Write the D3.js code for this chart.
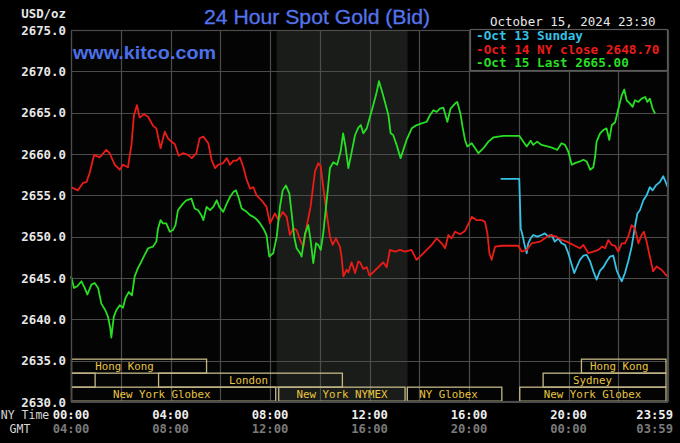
<!DOCTYPE html>
<html><head><meta charset="utf-8">
<script src="https://cdn.jsdelivr.net/npm/d3@7"></script>
<style>html,body{margin:0;padding:0;background:#000;}svg{display:block;}</style>
</head><body>
<script>
// ---- data ----
const yTicks = [2630,2635,2640,2645,2650,2655,2660,2665,2670,2675];
const xTickHours = [0,4,8,12,16,20,24];
const nyTimeLabels = ['00:00','04:00','08:00','12:00','16:00','20:00','23:59'];
const gmtLabels = ['04:00','08:00','12:00','16:00','20:00','00:00','03:59'];
const gridHours = [0,2,4,6,8,10,12,14,16,18,20,22,24];
const shadeHours = [8.27, 13.53];
const legendLabels = ['-Oct 13 Sunday','-Oct 14 NY close 2648.70','-Oct 15 Last 2665.00'];
// sessions: [row, startHour, endHour, label, labelHour]
const sessions = [
  [0, 0, 5.47, 'Hong Kong', 0.97],
  [0, 20.5, 23.94, 'Hong Kong', 20.86],
  [1, 0, 0.99, '', 0],
  [1, 3.5, 10.93, 'London', 6.35],
  [1, 18.96, 23.94, 'Sydney', 20.18],
  [2, 0, 8.25, 'New York Globex', 1.69],
  [2, 8.33, 13.45, 'New York NYMEX', 9.07],
  [2, 13.5, 17.34, 'NY Globex', 14.0],
  [2, 18.02, 23.94, 'New York Globex', 19.0]
];
const oct13 = [[17.27,2657.0],[18.02,2657.0],[18.05,2654.0],[18.08,2651.0],[18.15,2650.2],[18.25,2648.8],[18.32,2648.0],[18.38,2649.2],[18.48,2649.8],[18.58,2650.2],[18.74,2650.0],[18.92,2650.2],[19.05,2650.4],[19.19,2650.0],[19.32,2650.2],[19.45,2649.4],[19.59,2649.8],[19.72,2649.2],[19.86,2649.0],[19.99,2648.0],[20.13,2646.6],[20.23,2645.6],[20.33,2646.3],[20.46,2647.2],[20.6,2647.7],[20.73,2647.8],[20.87,2647.0],[21.0,2645.8],[21.13,2644.8],[21.27,2645.9],[21.4,2646.3],[21.53,2647.0],[21.67,2647.6],[21.8,2647.7],[21.94,2645.9],[22.04,2645.2],[22.14,2644.6],[22.27,2645.6],[22.4,2647.0],[22.54,2648.8],[22.67,2651.2],[22.77,2652.8],[22.87,2653.2],[23.01,2654.4],[23.14,2655.0],[23.27,2656.0],[23.38,2655.6],[23.51,2656.2],[23.67,2656.6],[23.81,2657.3],[23.91,2656.6],[23.98,2656.0]];
const oct14 = [[0.0,2656.0],[0.28,2655.6],[0.48,2656.5],[0.62,2656.6],[0.75,2657.7],[0.93,2659.9],[1.15,2659.6],[1.42,2660.5],[1.55,2660.1],[1.76,2658.7],[1.96,2658.1],[2.09,2658.7],[2.29,2658.4],[2.43,2661.1],[2.53,2664.7],[2.65,2665.9],[2.76,2664.4],[2.93,2664.8],[3.1,2664.5],[3.3,2663.4],[3.43,2663.1],[3.6,2660.7],[3.77,2662.7],[3.9,2661.9],[4.03,2661.5],[4.17,2661.2],[4.33,2659.8],[4.5,2660.1],[4.7,2659.9],[4.86,2659.5],[5.04,2660.1],[5.17,2661.9],[5.32,2662.1],[5.52,2661.3],[5.65,2659.3],[5.79,2658.3],[5.92,2658.7],[6.12,2658.9],[6.26,2659.5],[6.39,2658.7],[6.53,2659.2],[6.66,2659.2],[6.79,2659.6],[6.93,2658.4],[7.06,2656.9],[7.2,2655.8],[7.33,2656.0],[7.46,2655.0],[7.66,2654.4],[7.86,2653.6],[8.0,2651.6],[8.2,2652.8],[8.34,2652.0],[8.51,2653.0],[8.67,2652.4],[8.8,2650.2],[8.94,2651.0],[9.07,2650.8],[9.21,2649.6],[9.34,2648.8],[9.47,2651.2],[9.63,2653.6],[9.81,2657.9],[9.94,2658.9],[10.04,2658.5],[10.14,2656.0],[10.28,2652.8],[10.41,2650.0],[10.52,2649.0],[10.65,2649.8],[10.81,2648.8],[10.88,2647.5],[10.95,2645.2],[11.08,2646.0],[11.15,2645.7],[11.28,2646.9],[11.42,2645.6],[11.55,2647.0],[11.62,2646.9],[11.75,2646.1],[11.89,2646.3],[12.0,2645.3],[12.15,2645.7],[12.35,2646.3],[12.55,2646.9],[12.69,2646.3],[12.82,2648.4],[13.03,2648.2],[13.23,2648.4],[13.43,2648.2],[13.69,2648.4],[13.89,2647.2],[14.1,2647.8],[14.3,2648.4],[14.5,2649.0],[14.7,2649.8],[14.9,2649.2],[15.04,2648.6],[15.17,2650.2],[15.3,2649.8],[15.44,2650.6],[15.64,2650.3],[15.84,2650.7],[16.11,2652.4],[16.31,2652.0],[16.51,2652.0],[16.64,2651.8],[16.74,2650.4],[16.82,2648.0],[16.91,2647.2],[17.05,2648.8],[17.31,2648.9],[17.65,2648.9],[17.98,2648.9],[18.12,2648.2],[18.32,2648.4],[18.52,2649.2],[18.85,2649.4],[19.05,2649.8],[19.25,2650.2],[19.52,2650.0],[19.72,2649.6],[19.93,2649.4],[20.2,2649.0],[20.46,2648.6],[20.6,2649.0],[20.8,2648.0],[21.0,2648.2],[21.2,2648.4],[21.35,2648.8],[21.47,2648.6],[21.6,2649.6],[21.74,2649.0],[21.87,2648.9],[22.0,2648.2],[22.14,2649.2],[22.27,2649.2],[22.4,2650.0],[22.54,2651.4],[22.67,2651.0],[22.81,2649.2],[22.94,2650.2],[23.03,2650.6],[23.14,2649.4],[23.27,2647.6],[23.4,2645.8],[23.54,2646.4],[23.74,2646.0],[23.97,2645.2]];
const oct15 = [[0.0,2645.2],[0.12,2643.8],[0.25,2644.0],[0.42,2644.6],[0.55,2643.8],[0.66,2643.0],[0.82,2644.2],[0.95,2644.4],[1.09,2643.8],[1.22,2641.9],[1.38,2641.1],[1.49,2640.3],[1.58,2638.9],[1.62,2637.8],[1.72,2640.3],[1.82,2641.1],[1.96,2641.7],[2.09,2641.4],[2.18,2642.5],[2.32,2643.3],[2.45,2642.9],[2.56,2645.2],[2.69,2646.2],[2.83,2647.0],[2.96,2647.8],[3.1,2648.6],[3.3,2648.8],[3.43,2649.4],[3.5,2651.0],[3.6,2652.0],[3.7,2651.6],[3.83,2651.6],[3.97,2650.6],[4.1,2650.8],[4.2,2651.4],[4.3,2653.2],[4.5,2654.0],[4.64,2654.4],[4.84,2654.6],[4.97,2653.4],[5.11,2653.2],[5.24,2652.6],[5.32,2652.0],[5.45,2653.6],[5.59,2653.2],[5.72,2653.6],[5.86,2654.4],[5.96,2653.6],[6.12,2653.0],[6.26,2654.0],[6.39,2654.8],[6.53,2655.4],[6.63,2655.6],[6.73,2654.8],[6.86,2653.4],[7.06,2653.0],[7.2,2652.6],[7.33,2652.4],[7.46,2652.1],[7.6,2651.6],[7.73,2651.0],[7.86,2650.2],[7.97,2647.6],[8.13,2648.0],[8.27,2650.0],[8.4,2653.6],[8.51,2655.6],[8.64,2656.2],[8.78,2655.2],[8.87,2652.8],[8.97,2650.0],[9.07,2648.6],[9.21,2648.0],[9.27,2647.6],[9.41,2650.4],[9.54,2651.4],[9.63,2649.6],[9.74,2646.8],[9.85,2649.2],[9.94,2649.0],[10.04,2648.4],[10.14,2650.4],[10.28,2654.4],[10.41,2658.3],[10.55,2659.0],[10.7,2658.7],[10.84,2660.3],[10.94,2662.5],[11.03,2661.0],[11.15,2658.3],[11.28,2660.2],[11.42,2662.3],[11.55,2663.2],[11.65,2663.5],[11.75,2662.5],[11.89,2663.1],[12.02,2664.5],[12.15,2665.9],[12.29,2667.5],[12.38,2668.8],[12.49,2667.7],[12.62,2666.3],[12.76,2664.7],[12.85,2662.5],[12.95,2662.3],[13.09,2661.1],[13.25,2659.5],[13.36,2660.5],[13.49,2661.7],[13.7,2663.1],[13.9,2663.5],[14.1,2663.7],[14.3,2663.9],[14.43,2664.7],[14.57,2665.3],[14.7,2665.1],[14.83,2665.5],[14.97,2665.6],[15.13,2663.9],[15.26,2665.5],[15.44,2666.1],[15.53,2666.3],[15.66,2664.8],[15.74,2663.3],[15.84,2661.7],[15.93,2660.9],[16.11,2661.3],[16.38,2660.1],[16.58,2660.7],[16.78,2661.5],[16.98,2662.0],[17.38,2662.2],[17.71,2662.2],[18.02,2662.2],[18.18,2661.5],[18.32,2660.9],[18.48,2661.6],[18.58,2661.1],[18.74,2661.5],[18.92,2661.1],[19.19,2660.9],[19.39,2660.7],[19.55,2660.5],[19.72,2661.3],[19.86,2661.1],[19.99,2660.3],[20.13,2658.7],[20.26,2658.9],[20.46,2659.1],[20.6,2659.3],[20.73,2659.1],[20.87,2658.1],[21.0,2658.4],[21.07,2659.7],[21.13,2661.5],[21.27,2662.5],[21.4,2662.9],[21.53,2663.1],[21.64,2661.7],[21.74,2663.5],[21.87,2663.8],[21.96,2664.9],[22.04,2665.9],[22.14,2667.1],[22.24,2667.8],[22.34,2666.5],[22.47,2666.1],[22.58,2665.7],[22.67,2666.5],[22.81,2666.3],[22.94,2666.7],[23.08,2666.9],[23.17,2666.3],[23.27,2666.7],[23.38,2665.5],[23.48,2664.9]];
const seriesColors = ['#36c2e6','#ea1c18','#28de24'];

// ---- chart ----
const W = 680, H = 443;
const L = 71, R = 668, T = 30, B = 402;
const x = d3.scaleLinear().domain([0,24]).range([L,R]);
const y = d3.scaleLinear().domain([2630,2675]).range([B,T]);
const svg = d3.select('body').append('svg').attr('width',W).attr('height',H);
svg.append('rect').attr('width',W).attr('height',H).attr('fill','#000');
const mono = "'DejaVu Sans Mono', 'Liberation Mono', monospace";
const gridColor = '#4c4c4c';

// plot bg + shading
svg.append('rect').attr('x',L).attr('y',T).attr('width',R-L).attr('height',B-T).attr('fill','#040404');
svg.append('rect').attr('x',x(shadeHours[0])).attr('y',T).attr('width',x(shadeHours[1])-x(shadeHours[0])).attr('height',B-T).attr('fill','#191c19');

// grid
svg.append('g').selectAll('line').data(yTicks).join('line')
  .attr('x1',L).attr('x2',R).attr('y1',d=>Math.round(y(d))+0.5).attr('y2',d=>Math.round(y(d))+0.5)
  .attr('stroke',gridColor).attr('stroke-width',1.2);
svg.append('g').selectAll('line').data(gridHours).join('line')
  .attr('y1',T).attr('y2',B).attr('x1',d=>Math.round(x(d))+0.5).attr('x2',d=>Math.round(x(d))+0.5)
  .attr('stroke',gridColor).attr('stroke-width',1.2);

// sessions
const rowTop = r => y(2635) - 1.5 + r*14;
const sg = svg.append('g');
sessions.forEach(s => {
  const [row,h0,h1,label,lh] = s;
  sg.append('rect').attr('x',x(h0)+0.5).attr('y',rowTop(row)).attr('width',x(h1)-x(h0)-1).attr('height',14)
    .attr('fill','none').attr('stroke','#c4b888').attr('stroke-width',1.3);
  if (label) sg.append('text').attr('x',x(lh)).attr('y',rowTop(row)+11).text(label)
    .attr('fill','#e8c440').attr('font-family',mono).attr('font-size','10.8px');
});

// y labels
svg.append('g').selectAll('text').data(yTicks).join('text')
  .attr('x',66).attr('y',d=>y(d)+4.5).attr('text-anchor','end').text(d=>d.toFixed(1))
  .attr('fill','#e8e8e8').attr('font-family',mono).attr('font-weight','bold').attr('font-size','12.4px');
svg.append('text').attr('x',66).attr('y',18).attr('text-anchor','end').text('USD/oz')
  .attr('fill','#e8e8e8').attr('font-family',mono).attr('font-weight','bold').attr('font-size','12.4px');

// x labels
svg.append('g').selectAll('text').data(xTickHours).join('text')
  .attr('x',(d,i)=> i===xTickHours.length-1 ? x(d)+5 : x(d)).attr('y',419)
  .attr('text-anchor',(d,i)=> i===xTickHours.length-1 ? 'end':'middle').text((d,i)=>nyTimeLabels[i])
  .attr('fill','#eeeeee').attr('font-family',mono).attr('font-weight','bold').attr('font-size','12.2px');
svg.append('g').selectAll('text').data(xTickHours).join('text')
  .attr('x',(d,i)=> i===xTickHours.length-1 ? x(d)+5 : x(d)).attr('y',433)
  .attr('text-anchor',(d,i)=> i===xTickHours.length-1 ? 'end':'middle').text((d,i)=>gmtLabels[i])
  .attr('fill','#7a7a7a').attr('font-family',mono).attr('font-weight','bold').attr('font-size','12.2px');
svg.append('text').attr('x',25).attr('y',419).attr('text-anchor','middle').text('NY Time')
  .attr('fill','#d8d8d8').attr('font-family',mono).attr('font-size','11.5px');
svg.append('text').attr('x',20).attr('y',433).attr('text-anchor','middle').text('GMT')
  .attr('fill','#d8d8d8').attr('font-family',mono).attr('font-size','11.5px');

// series
const line = d3.line().x(d=>x(d[0])).y(d=>y(d[1]));
[oct13, oct14, oct15].forEach((s,i)=>{
  svg.append('path').attr('d',line(s)).attr('fill','none').attr('stroke',seriesColors[i])
    .attr('stroke-width',1.8).attr('stroke-linejoin','round');
});

// plot border
svg.append('rect').attr('x',L+0.5).attr('y',T+0.5).attr('width',R-L-1).attr('height',B-T-1)
  .attr('fill','none').attr('stroke',gridColor).attr('stroke-width',1.2);

// legend
const lg = svg.append('g');
lg.append('rect').attr('x',470.5).attr('y',29.5).attr('width',197).attr('height',41)
  .attr('fill','#000').attr('stroke','#5a5a5a').attr('stroke-width',1.2);
lg.selectAll('text').data(legendLabels).join('text')
  .attr('x',476).attr('y',(d,i)=>40+i*13.5).text(d=>d)
  .attr('fill',(d,i)=>seriesColors[i]).attr('font-family',mono).attr('font-weight','bold').attr('font-size','12.7px');

// titles
svg.append('text').attr('x',317).attr('y',23.5).attr('text-anchor','middle').text('24 Hour Spot Gold (Bid)')
  .attr('fill','#5474ec').attr('font-family',"'Liberation Sans', Arial, sans-serif").attr('font-size','20px')
  .attr('stroke','#5474ec').attr('stroke-width',0.3)
  .attr('textLength',226).attr('lengthAdjust','spacingAndGlyphs');
svg.append('text').attr('x',73).attr('y',59).text('www.kitco.com')
  .attr('fill','#4c70e8').attr('font-family',"'Liberation Sans', Arial, sans-serif").attr('font-weight','bold').attr('font-size','18px')
  .attr('textLength',143).attr('lengthAdjust','spacingAndGlyphs');
svg.append('text').attr('x',490).attr('y',26).text('October 15, 2024 23:30')
  .attr('fill','#e8e8e8').attr('font-family',mono).attr('font-size','12.5px');
</script>
</body></html>
